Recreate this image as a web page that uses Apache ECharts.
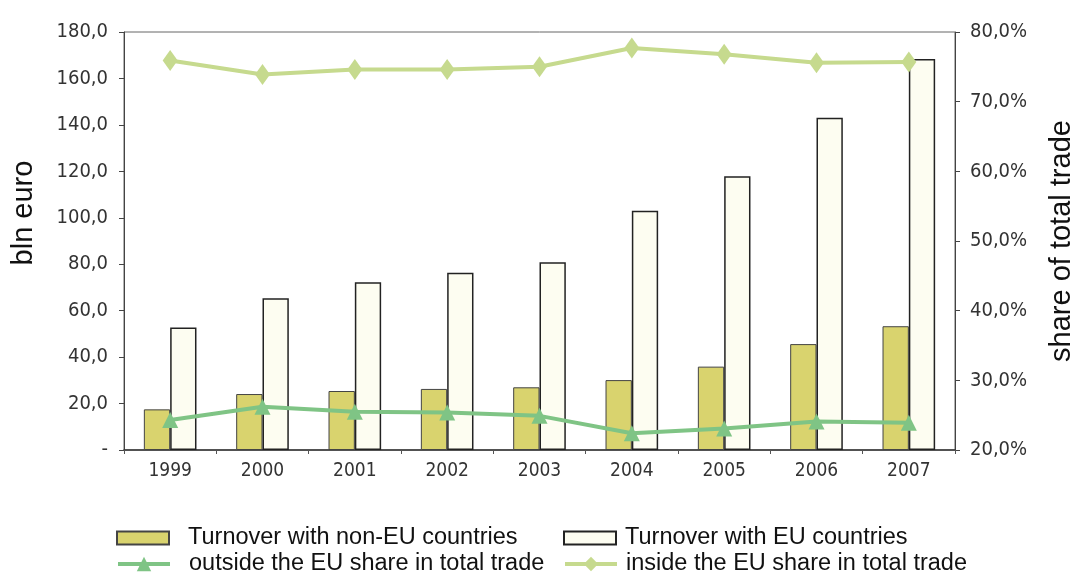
<!DOCTYPE html>
<html>
<head>
<meta charset="utf-8">
<script src="https://cdn.jsdelivr.net/npm/echarts@6/dist/echarts.min.js"></script>
<style>
  html, body { margin: 0; padding: 0; background: #fff; }
  #chart { width: 1084px; height: 577px; }
</style>
</head>
<body>
<div id="chart"></div>
<script>
// data
const years = ['1999', '2000', '2001', '2002', '2003', '2004', '2005', '2006', '2007']
const nonEuTurnover = [17.5, 24.1, 25.4, 26.3, 27.0, 30.1, 35.9, 45.6, 53.3]
const euTurnover = [52.8, 65.3, 72.2, 76.3, 80.9, 103.0, 117.9, 143.1, 168.4]
const outsideShare = [24.3, 26.2, 25.5, 25.4, 24.9, 22.4, 23.1, 24.1, 23.9]
const insideShare = [75.9, 73.9, 74.6, 74.6, 75.0, 77.7, 76.8, 75.6, 75.7]

const names = [
  'Turnover with non-EU countries',
  'Turnover with EU countries',
  'outside the EU share in total trade',
  'inside the EU share in total trade'
]

const narrow = "'DejaVu Sans Condensed', 'Liberation Sans Narrow', sans-serif"
const plain = "'Liberation Sans', Arial, sans-serif"

const chart = echarts.init(document.getElementById('chart'))

// one legend per item so the two columns line up like the original
function legendAt(name, left, top, textGap, isLine) {
  return {
    data: [name],
    left: left,
    top: top,
    padding: 0,
    icon: isLine ? undefined : 'rect',
    itemWidth: 52,
    itemHeight: isLine ? 18 : 13,
    selectedMode: false,
    lineStyle: { width: 4 },
    textStyle: {
      fontFamily: plain,
      fontSize: 23.5,
      color: '#111',
      padding: [0, 0, 0, textGap]
    }
  }
}

const option = {
  backgroundColor: '#fff',
  animation: false,
  grid: {
    left: 124,
    right: 122,
    top: 32,
    bottom: 127,
    show: true,
    borderColor: '#666',
    borderWidth: 1
  },
  legend: [
    legendAt(names[0], 116, 526, 14, false),
    legendAt(names[1], 563, 526, 4, false),
    legendAt(names[2], 116, 552, 14, true),
    legendAt(names[3], 563, 552, 4, true)
  ],
  xAxis: {
    type: 'category',
    data: years,
    axisLine: { lineStyle: { color: '#333', width: 1.5 } },
    axisTick: { show: true, length: 4, lineStyle: { color: '#555' } },
    axisLabel: {
      margin: 12,
      fontFamily: narrow,
      fontSize: 19,
      color: '#333'
    }
  },
  yAxis: [
    {
      type: 'value',
      min: 0,
      max: 180,
      interval: 20,
      name: 'bln euro',
      nameLocation: 'middle',
      nameGap: 86,
      nameTextStyle: {
        fontFamily: plain,
        fontSize: 29,
        color: '#111',
        padding: [0, 0, 0, 56]
      },
      axisLine: { show: true, lineStyle: { color: '#444', width: 1 } },
      axisTick: { show: true, length: 5, lineStyle: { color: '#444' } },
      splitLine: { show: false },
      axisLabel: {
        margin: 16,
        fontFamily: narrow,
        fontSize: 20,
        color: '#333',
        formatter: function (v) {
          return v === 0 ? '-' : v.toFixed(1).replace('.', ',')
        }
      }
    },
    {
      type: 'value',
      min: 20,
      max: 80,
      interval: 10,
      name: 'share of total trade',
      nameLocation: 'middle',
      nameRotate: 90,
      nameGap: 92,
      nameTextStyle: {
        fontFamily: plain,
        fontSize: 29,
        color: '#111'
      },
      axisLine: { show: true, lineStyle: { color: '#444', width: 1 } },
      axisTick: { show: true, length: 5, lineStyle: { color: '#444' } },
      splitLine: { show: false },
      axisLabel: {
        margin: 15,
        fontFamily: narrow,
        fontSize: 20,
        color: '#333',
        formatter: function (v) {
          return v.toFixed(1).replace('.', ',') + '%'
        }
      }
    }
  ],
  series: [
    {
      name: names[0],
      type: 'bar',
      data: nonEuTurnover,
      barGap: '0%',
      barCategoryGap: '43%',
      itemStyle: {
        color: '#d9d36e',
        borderColor: '#444',
        borderWidth: 1
      }
    },
    {
      name: names[1],
      type: 'bar',
      data: euTurnover,
      itemStyle: {
        color: '#fdfdf1',
        borderColor: '#222',
        borderWidth: 1.5
      }
    },
    {
      name: names[2],
      type: 'line',
      yAxisIndex: 1,
      data: outsideShare,
      symbol: 'triangle',
      symbolSize: 16,
      lineStyle: { color: '#7fc485', width: 4 },
      itemStyle: { color: '#7fc485' }
    },
    {
      name: names[3],
      type: 'line',
      yAxisIndex: 1,
      data: insideShare,
      symbol: 'diamond',
      symbolSize: [15, 21],
      lineStyle: { color: '#c6da8e', width: 4 },
      itemStyle: { color: '#c6da8e' }
    }
  ]
}

chart.setOption(option)
</script>
</body>
</html>
